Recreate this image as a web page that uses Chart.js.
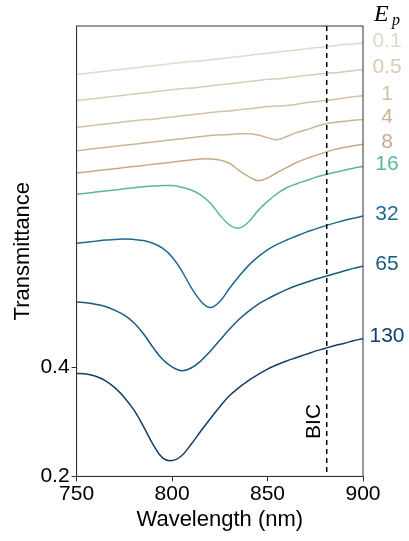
<!DOCTYPE html>
<html>
<head>
<meta charset="utf-8">
<script src="https://cdn.jsdelivr.net/npm/chart.js@4.4.1/dist/chart.umd.min.js"></script>
<style>
  html, body { margin: 0; padding: 0; background: #fff; }
  #wrap { width: 409px; height: 541px; position: relative; }
</style>
</head>
<body>
<div id="wrap"><canvas id="chart"></canvas></div>
<script>
// Wavelength grid (nm) shared by every curve
const wavelengths = [750, 755, 760, 765, 770, 775, 780, 785, 790, 795, 800, 805, 810, 815, 820, 825,
                     830, 835, 840, 845, 850, 855, 860, 865, 870, 875, 880, 885, 890, 895, 900];

// Pump energies (legend labels on the right)
const energies = ['0.1', '0.5', '1', '4', '8', '16', '32', '65', '130'];

// Transmittance curves (vertically offset)
const t01  = [.938, .940, .942, .944, .946, .948, .950, .952, .954, .956, .958, .960, .962, .963, .965, .967,
              .969, .971, .973, .975, .977, .979, .981, .983, .985, .987, .989, .991, .993, .994, .996];
const t05  = [.890, .892, .894, .896, .898, .900, .902, .904, .906, .908, .910, .912, .913, .915, .917, .919,
              .921, .923, .925, .927, .929, .930, .932, .934, .936, .938, .940, .941, .943, .945, .947];
const t1   = [.841, .843, .845, .847, .849, .851, .853, .855, .856, .858, .860, .862, .864, .866, .868, .870,
              .871, .873, .875, .877, .879, .880, .881, .883, .886, .888, .890, .892, .895, .897, .899];
const t4   = [.798, .800, .802, .804, .806, .808, .810, .812, .814, .816, .818, .820, .822, .824, .826, .827,
              .828, .829, .829, .827, .822, .818, .824, .831, .836, .842, .847, .850, .852, .854, .855];
const t8   = [.757, .759, .761, .763, .765, .767, .769, .771, .773, .775, .777, .779, .781, .783, .783, .781,
              .775, .762, .751, .743, .748, .758, .767, .776, .783, .789, .795, .800, .804, .807, .810];
const t16  = [.718, .720, .722, .724, .726, .728, .730, .732, .733, .734, .734, .731, .726, .717, .702, .680,
              .662, .656, .667, .688, .705, .719, .730, .737, .743, .749, .754, .758, .762, .766, .769];
const t32  = [.628, .630, .632, .634, .635, .636, .635, .633, .628, .619, .603, .578, .547, .522, .510, .521,
              .545, .567, .587, .603, .616, .626, .634, .641, .648, .654, .660, .665, .670, .674, .678];
const t65  = [.520, .519, .516, .512, .505, .496, .482, .462, .437, .415, .401, .394, .399, .412, .430, .450,
              .470, .488, .503, .516, .526, .535, .543, .550, .556, .562, .567, .572, .577, .582, .586];
const t130 = [.389, .388, .384, .376, .363, .345, .322, .292, .259, .234, .229, .238, .259, .283, .306, .328,
              .348, .363, .376, .387, .397, .405, .412, .418, .424, .430, .435, .440, .444, .449, .453];

const curves = [t01, t05, t1, t4, t8, t16, t32, t65, t130];
const colors = ['#e3d8c9', '#dacab6', '#d3c0a6', '#ccb594', '#c6aa88', '#5db59d', '#1b6b90', '#155b83', '#123e69'];

const yTicks = [0.2, 0.4];
const bicWavelength = 881;

const FONT = "'Liberation Sans', Arial, Helvetica, sans-serif";

const datasets = curves.map((vals, i) => ({
    label: energies[i],
    data: wavelengths.map((w, j) => ({ x: w, y: vals[j] })),
    borderColor: colors[i],
    borderWidth: 1.5,
    pointRadius: 0,
    fill: false,
    tension: 0.4
}));

// frame, BIC marker and right-hand labels
const extras = {
    id: 'extras',
    afterDatasetsDraw(chart) {
        const ctx = chart.ctx;
        const a = chart.chartArea;
        const xs = chart.scales.x, ys = chart.scales.y;
        ctx.save();

        // dashed BIC line
        const bx = xs.getPixelForValue(bicWavelength);
        ctx.strokeStyle = '#000';
        ctx.lineWidth = 1.5;
        ctx.setLineDash([5, 4]);
        ctx.beginPath();
        ctx.moveTo(bx, a.top);
        ctx.lineTo(bx, a.bottom);
        ctx.stroke();
        ctx.setLineDash([]);

        // BIC text
        ctx.save();
        ctx.translate(bx - 13, a.bottom - 55);
        ctx.rotate(-Math.PI / 2);
        ctx.fillStyle = '#000';
        ctx.font = '21px ' + FONT;
        ctx.textAlign = 'center';
        ctx.textBaseline = 'middle';
        ctx.fillText('BIC', 0, 0);
        ctx.restore();

        // box
        ctx.strokeStyle = '#333';
        ctx.lineWidth = 1;
        ctx.strokeRect(a.left, a.top, a.right - a.left, a.bottom - a.top);

        // energy labels at the end of each curve
        ctx.font = '21px ' + FONT;
        ctx.textAlign = 'center';
        ctx.textBaseline = 'middle';
        curves.forEach((vals, i) => {
            ctx.fillStyle = colors[i];
            ctx.fillText(energies[i], a.right + 24, ys.getPixelForValue(vals[vals.length - 1]) - 2);
        });

        // E_p header
        ctx.fillStyle = '#000';
        ctx.textAlign = 'left';
        ctx.textBaseline = 'alphabetic';
        ctx.font = 'italic 24px "Liberation Serif", "DejaVu Serif", serif';
        ctx.fillText('E', a.right + 11, 21);
        ctx.font = 'italic 16px "Liberation Serif", "DejaVu Serif", serif';
        ctx.fillText('p', a.right + 29, 25);

        ctx.restore();
    }
};

new Chart(document.getElementById('chart'), {
    type: 'line',
    data: { datasets: datasets },
    options: {
        responsive: true,
        maintainAspectRatio: false,
        animation: false,
        layout: { padding: { top: 26, right: 46, left: 8, bottom: 8 } },
        plugins: {
            legend: { display: false },
            tooltip: { enabled: false }
        },
        scales: {
            x: {
                type: 'linear',
                min: 750,
                max: 900,
                ticks: { stepSize: 50, color: '#000', font: { family: FONT, size: 21 }, padding: 0, maxRotation: 0 },
                grid: { drawOnChartArea: false, tickLength: 5, color: '#333' },
                border: { color: '#333' },
                title: { display: true, text: 'Wavelength (nm)', color: '#000', font: { family: FONT, size: 22 }, padding: 0 }
            },
            y: {
                min: 0.2,
                max: 1.027,
                afterBuildTicks: axis => { axis.ticks = yTicks.map(v => ({ value: v })); },
                ticks: { color: '#000', font: { family: FONT, size: 21 }, padding: 2, callback: v => v.toFixed(1) },
                grid: { drawOnChartArea: false, tickLength: 5, color: '#333' },
                border: { color: '#333' },
                title: { display: true, text: 'Transmittance', color: '#000', font: { family: FONT, size: 22 }, padding: 2 }
            }
        }
    },
    plugins: [extras]
});
</script>
</body>
</html>
